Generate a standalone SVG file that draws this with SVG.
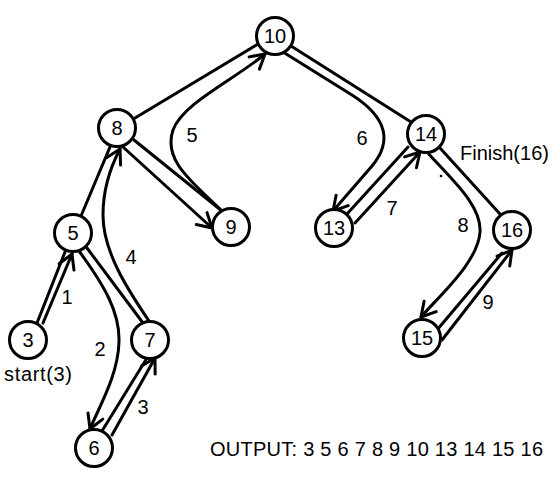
<svg xmlns="http://www.w3.org/2000/svg" width="554" height="480" viewBox="0 0 554 480">
<style>
.e{fill:none;stroke:#000;stroke-width:3;stroke-linecap:round}
.t{fill:none;stroke:#000;stroke-width:3;stroke-linecap:round;marker-end:url(#a)}
.n circle{fill:#fff;stroke:#000;stroke-width:3}
text{font-family:"Liberation Sans",Arial,sans-serif;font-size:20px;fill:#000}
.n text{text-anchor:middle}
</style>
<defs>
<marker id="a" viewBox="0 0 20 20" refX="17" refY="10" markerWidth="20" markerHeight="20" orient="auto" markerUnits="userSpaceOnUse">
<path d="M3,2 L17,10 L3,18" fill="none" stroke="#000" stroke-width="3" stroke-linejoin="round" stroke-linecap="round"/>
</marker>
</defs>
<rect width="554" height="480" fill="#fff"/>
<g id="connectors">
<line class="e" x1="135" y1="118" x2="258" y2="44"/>
<line class="e" x1="291" y1="46" x2="411" y2="122"/>
<line class="e" x1="110" y1="147" x2="81" y2="216"/>
<line class="e" x1="134" y1="140" x2="222" y2="211"/>
<line class="e" x1="65" y1="252" x2="37" y2="323"/>
<line class="e" x1="87" y1="248" x2="143" y2="323"/>
<line class="e" x1="102" y1="431" x2="147" y2="358"/>
<line class="e" x1="347" y1="214" x2="408" y2="147"/>
<line class="e" x1="440" y1="148" x2="500" y2="214"/>
<line class="e" x1="437" y1="330" x2="502" y2="253"/>
<path class="t" d="M43,323 L72,254"/>
<path class="t" d="M79,251 C104,285 120,312 119,342 C118,375 100,405 90,429"/>
<path class="t" d="M112,435 L155,358"/>
<path class="t" d="M149,321 C128,290 103,252 103,215 C103,190 110,168 120,149"/>
<path class="t" d="M123,147 L212,228"/>
<path class="t" d="M222,211 C190,180 163,160 173,130 C183,103 234,80 265,54"/>
<path class="t" d="M283,52 L352,95 C388,118 392,142 372,166 L333,211"/>
<path class="t" d="M355,223 L420,152"/>
<path class="t" d="M427,152 C450,178 482,205 480,232 C478,262 440,295 421,317"/>
<path class="t" d="M442,340 L512,250"/>
<circle cx="441" cy="176" r="1.3" fill="#000"/>
<text x="67" y="304" text-anchor="middle">1</text>
<text x="100" y="356" text-anchor="middle">2</text>
<text x="143" y="414" text-anchor="middle">3</text>
<text x="131" y="264" text-anchor="middle">4</text>
<text x="192" y="142" text-anchor="middle">5</text>
<text x="362" y="145" text-anchor="middle">6</text>
<text x="392" y="215" text-anchor="middle">7</text>
<text x="463" y="232" text-anchor="middle">8</text>
<text x="488" y="309" text-anchor="middle">9</text>
</g>
<g id="n10" class="n"><circle cx="275" cy="36" r="18.5"/><text x="275" y="43">10</text></g>
<g id="n8" class="n"><circle cx="117" cy="128" r="18.5"/><text x="117" y="135">8</text></g>
<g id="n9" class="n"><circle cx="231" cy="227" r="18.5"/><text x="231" y="234">9</text></g>
<g id="n5" class="n"><circle cx="73" cy="233" r="18.5"/><text x="73" y="240">5</text></g>
<g id="n3" class="n"><circle cx="28" cy="340" r="18.5"/><text x="28" y="347">3</text></g>
<g id="n7" class="n"><circle cx="150" cy="340" r="18.5"/><text x="150" y="347">7</text></g>
<g id="n6" class="n"><circle cx="94" cy="448" r="18.5"/><text x="94" y="455">6</text></g>
<g id="n13" class="n"><circle cx="334" cy="228" r="18.5"/><text x="334" y="235">13</text></g>
<g id="n14" class="n"><circle cx="426" cy="134" r="18.5"/><text x="426" y="141">14</text></g>
<g id="n16" class="n"><circle cx="512" cy="230" r="18.5"/><text x="512" y="237">16</text></g>
<g id="n15" class="n"><circle cx="422" cy="338" r="18.5"/><text x="422" y="345">15</text></g>
<g id="labels">
<text x="4" y="381" textLength="68">start(3)</text>
<text x="460" y="160">Finish(16)</text>
<text x="210" y="456" textLength="333">OUTPUT: 3 5 6 7 8 9 10 13 14 15 16</text>
</g>
</svg>
